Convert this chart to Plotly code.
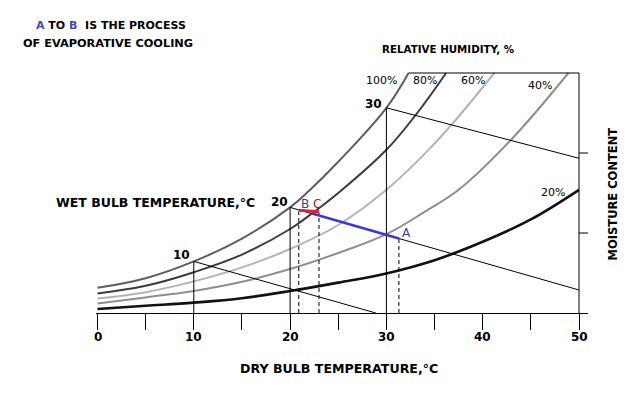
import plotly.graph_objects as go

# ---------------- data ----------------
dry_bulb_ticks = [0, 5, 10, 15, 20, 25, 30, 35, 40, 45, 50]
dry_bulb_labels = ["0", "", "10", "", "20", "", "30", "", "40", "", "50"]

rh_labels = ["100%", "80%", "60%", "40%", "20%"]
t_100 = [0, 5, 10, 15, 20, 22, 25, 30, 32.3]
w_100 = [3.15, 4.35, 6.45, 9.3, 13.2, 15.3, 18.9, 25.65, 30.0]
t_80 = [0, 5, 10, 15, 20, 22, 25, 30, 33.2, 36.2]
w_80 = [2.45, 3.4, 5.1, 7.3, 10.5, 12.2, 15.0, 20.4, 25.0, 30.0]
t_60 = [0, 5, 10, 15, 20, 25, 30, 34.3, 37.1, 41.2]
w_60 = [1.8, 2.6, 3.95, 5.7, 8.0, 11.0, 15.4, 20.3, 24.0, 30.0]
t_40 = [0, 5, 10, 15, 20, 25, 30, 34.3, 37.5, 42.9, 48.9]
w_40 = [1.2, 1.95, 2.75, 3.9, 5.5, 7.5, 9.85, 12.9, 15.4, 21.6, 30.0]
t_20 = [0, 5, 10, 15, 20, 25, 30, 35, 40, 45, 50]
w_20 = [0.5, 0.9, 1.3, 1.85, 2.75, 3.8, 4.95, 6.6, 8.9, 11.7, 15.4]

wet_bulb_temps = [10, 20, 30]
wet_bulb_start_w = [6.45, 13.2, 25.65]
wet_bulb_end_t = [28.9, 50, 50]
wet_bulb_end_w = [0, 2.875, 19.34]

moisture_ticks = [10, 20]
moisture_top = 30
dry_bulb_max = 50

# process A -> C (blue) and B -> C (red)
blue_t = [22.2, 31.3]
blue_w = [12.46, 9.32]
red_t = [20.9, 23.0]
red_w = [12.85, 12.65]
dashed_t = [20.9, 23.0, 31.3]
dashed_w = [12.7, 12.5, 9.32]

# ---------------- figure ----------------
W, H = 638, 394
L, R, T, B = 96, 50, 72, 81
PW, PH = W - L - R, H - T - B
X0, XS = 97.5, 9.63          # pixel of 0 degC, pixels per degC
X_LO, X_HI = (L - X0) / XS, (L + PW - X0) / XS


def px(x):
    return (x - L) / PW


def py(y):
    return (H - B - y) / PH


fig = go.Figure()

curve_styles = [
    (t_100, w_100, "#5e5e5e", 2),
    (t_80, w_80, "#3c3c3c", 2),
    (t_60, w_60, "#b4b4b4", 2),
    (t_40, w_40, "#8e8e8e", 2),
    (t_20, w_20, "#111111", 2.6),
]
for (tx, wy, col, lw), name in zip(curve_styles, rh_labels):
    fig.add_trace(go.Scatter(x=tx, y=wy, mode="lines", name=name,
                             line=dict(color=col, width=lw, shape="spline", smoothing=1.1),
                             hoverinfo="skip"))

# wet-bulb lines and verticals
for t0, w0, t1, w1 in zip(wet_bulb_temps, wet_bulb_start_w, wet_bulb_end_t, wet_bulb_end_w):
    fig.add_trace(go.Scatter(x=[t0, t1], y=[w0, w1], mode="lines",
                             line=dict(color="black", width=1), hoverinfo="skip"))
    fig.add_trace(go.Scatter(x=[t0, t0], y=[0, w0], mode="lines",
                             line=dict(color="black", width=1), hoverinfo="skip"))

# dashed verticals
for t0, w0 in zip(dashed_t, dashed_w):
    fig.add_trace(go.Scatter(x=[t0, t0], y=[0, w0], mode="lines",
                             line=dict(color="black", width=1, dash="4px,3px"), hoverinfo="skip"))

# right axis, top line, right ticks
fig.add_trace(go.Scatter(x=[dry_bulb_max, dry_bulb_max], y=[0, moisture_top], mode="lines",
                         line=dict(color="black", width=1), hoverinfo="skip"))
fig.add_trace(go.Scatter(x=[t_100[-1], dry_bulb_max], y=[moisture_top, moisture_top], mode="lines",
                         line=dict(color="black", width=1), hoverinfo="skip"))
for m in moisture_ticks:
    fig.add_trace(go.Scatter(x=[dry_bulb_max, X_HI], y=[m, m], mode="lines",
                             line=dict(color="black", width=1), hoverinfo="skip"))

# process lines
fig.add_trace(go.Scatter(x=blue_t, y=blue_w, mode="lines",
                         line=dict(color="#3a3acf", width=2.5), hoverinfo="skip"))
fig.add_trace(go.Scatter(x=red_t, y=red_w, mode="lines",
                         line=dict(color="#e0203c", width=3), hoverinfo="skip"))

FONT = "DejaVu Sans"
ann = []


def add(text, x, y, size, color="black", bold=False, angle=0, xanchor="center"):
    ann.append(dict(text=("<b>%s</b>" % text) if bold else text, x=px(x), y=py(y),
                    xref="paper", yref="paper", showarrow=False, xanchor=xanchor,
                    yanchor="middle", textangle=angle,
                    font=dict(family=FONT, size=size, color=color)))


# dry-bulb tick labels (placed on the x axis scale)
for tv, tl in zip(dry_bulb_ticks, dry_bulb_labels):
    if tl:
        ann.append(dict(text="<b>%s</b>" % tl, x=tv, y=py(337), xref="x", yref="paper",
                        showarrow=False, xanchor="center", yanchor="middle",
                        font=dict(family=FONT, size=12, color="black")))

add("10", 181, 255, 12, bold=True)
add("20", 279, 202, 12, bold=True)
add("30", 373, 104, 12, bold=True)
add("B", 304.5, 204, 12, color="#3c3ca8")
add("C", 316.5, 203.5, 12, color="#b01818")
add("A", 406.5, 233, 12, color="#3c3ca8")
add("WET BULB TEMPERATURE,°C", 155, 202, 12.5, bold=True)
add("100%", 381, 80.5, 11)
add("80%", 425, 80.5, 11)
add("60%", 473, 80.5, 11)
add("40%", 539.5, 85, 11)
add("20%", 553, 192, 11)
add("RELATIVE HUMIDITY, %", 448, 49, 10.3, bold=True)
add("MOISTURE CONTENT", 612.5, 194, 11.5, bold=True, angle=-90)
add("DRY BULB TEMPERATURE,°C", 339, 368, 12.6, bold=True)
add("<span style='color:#4646b4'>A</span> TO <span style='color:#4646b4'>B</span>  IS THE PROCESS",
    111, 25, 11, bold=True)
add("OF EVAPORATIVE COOLING", 108, 43, 11.3, bold=True)

fig.update_layout(
    width=W, height=H,
    margin=dict(l=L, r=R, t=T, b=B, pad=0),
    paper_bgcolor="white", plot_bgcolor="white",
    showlegend=False,
    annotations=ann,
    xaxis=dict(range=[X_LO, X_HI], showgrid=False, zeroline=False,
               showline=True, linecolor="black", linewidth=1,
               ticks="outside", ticklen=16, tickwidth=1, tickcolor="black",
               tickvals=dry_bulb_ticks, showticklabels=False, fixedrange=True),
    yaxis=dict(range=[0, PH / 8], visible=False, fixedrange=True),
)

fig.write_html("out.html", config={"displayModeBar": False})

# remove the browser's default page margin so the chart sits at the window origin
with open("out.html", "r", encoding="utf-8") as f:
    html = f.read()
html = html.replace("<head>", "<head><style>html,body{margin:0;padding:0;overflow:hidden;}</style>", 1)
with open("out.html", "w", encoding="utf-8") as f:
    f.write(html)
